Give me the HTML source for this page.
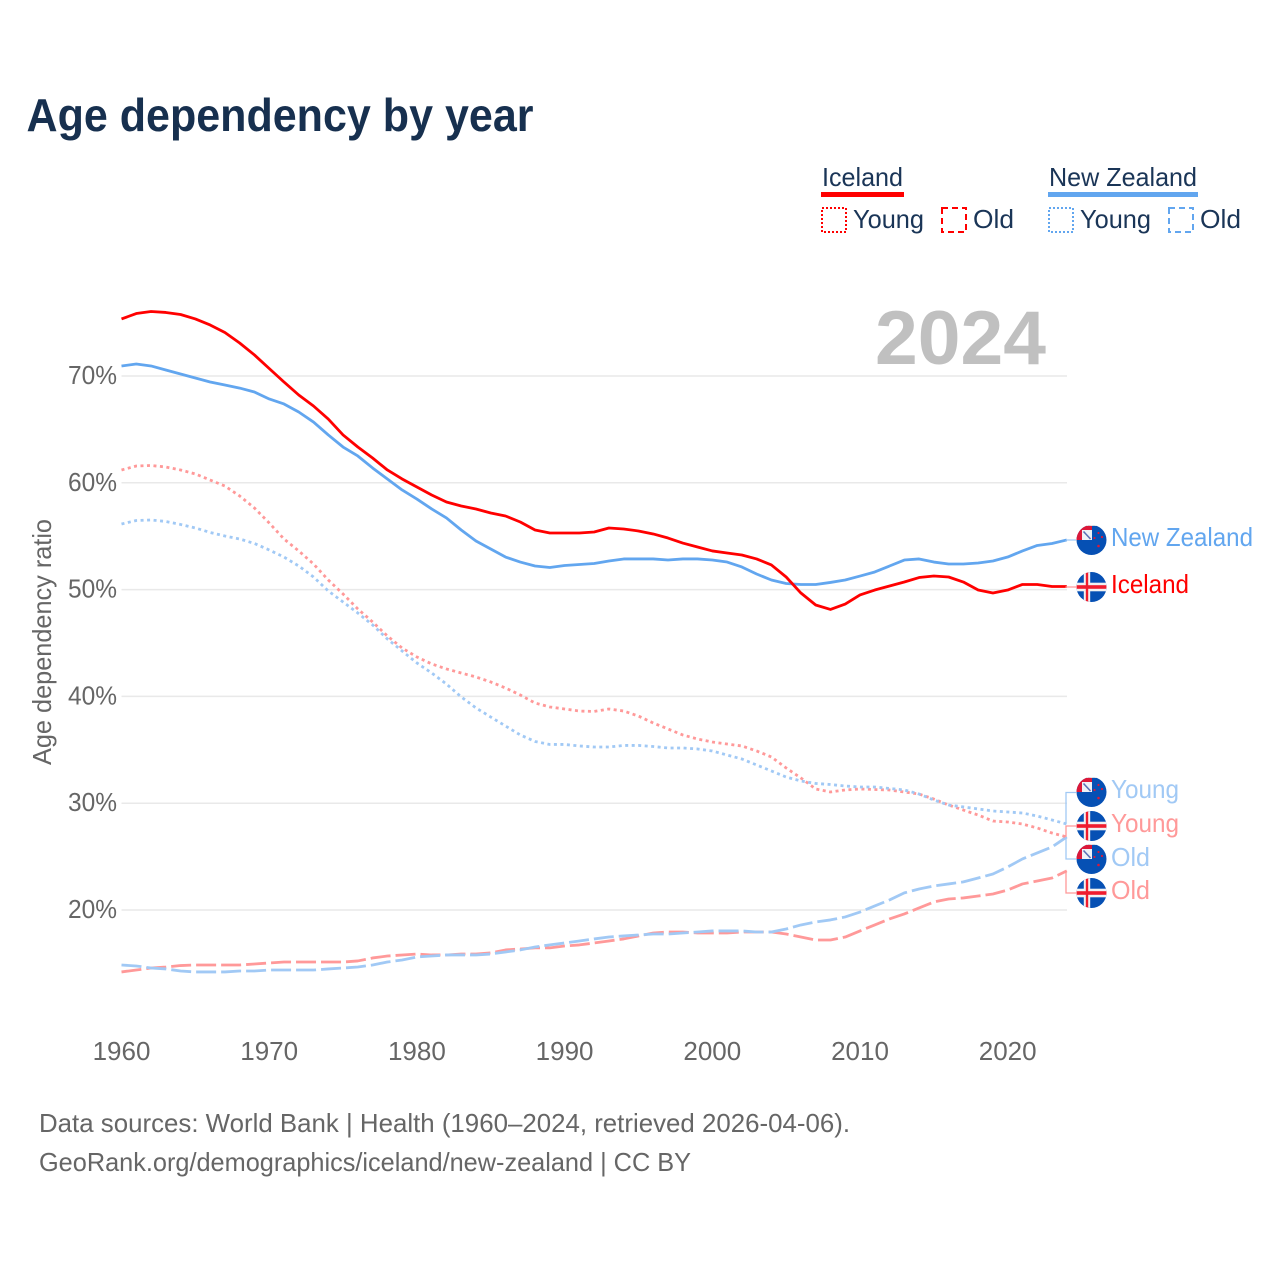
<!DOCTYPE html>
<html lang="en">
<head>
<meta charset="utf-8">
<title>Age dependency by year</title>
<style>
html,body{margin:0;padding:0;background:#fff;}
svg{display:block;}
text{font-family:"Liberation Sans",sans-serif;}
</style>
</head>
<body>
<svg id="chart" xmlns="http://www.w3.org/2000/svg" width="1280" height="1280" viewBox="0 0 1280 1280">
  <defs>
    <clipPath id="flag-clip"><circle cx="0" cy="0" r="15"/></clipPath>
    <g id="flag-is" clip-path="url(#flag-clip)">
      <rect x="-15" y="-15" width="30" height="30" fill="#0650b4"/>
      <rect x="-7.7" y="-15" width="6.4" height="30" fill="#f2f2f2"/>
      <rect x="-15" y="-4.3" width="30" height="8.6" fill="#f2f2f2"/>
      <rect x="-5.7" y="-15" width="2.4" height="30" fill="#ef1c2e"/>
      <rect x="-15" y="-1.8" width="30" height="3.6" fill="#ef1c2e"/>
    </g>
    <g id="flag-nz" clip-path="url(#flag-clip)">
      <rect x="-15" y="-15" width="30" height="30" fill="#0650b4"/>
      <rect x="-15" y="-15" width="15.5" height="15" fill="#dd1738"/>
      <rect x="-9.5" y="-10" width="10" height="10" fill="#eef1f6"/>
      <path d="M-8 -8.5L-1 -1" stroke="#5a6fb5" stroke-width="1.6" fill="none"/>
      <path d="M-15 -15h30" stroke="#e8e8e8" stroke-width="2" fill="none"/>
      <circle cx="7" cy="-7" r="1.1" fill="#dd1738"/>
      <circle cx="10.5" cy="-3" r="1.1" fill="#dd1738"/>
      <circle cx="3" cy="-2" r="1.1" fill="#dd1738"/>
      <circle cx="7" cy="6" r="1.3" fill="#dd1738"/>
    </g>
  </defs>

  <rect x="0" y="0" width="1280" height="1280" fill="#ffffff"/>

  <text x="26.5" y="131" font-size="46" font-weight="700" fill="#17304f" textLength="507" lengthAdjust="spacingAndGlyphs">Age dependency by year</text>

  <g font-size="26" fill="#1a3557">
    <text x="822" y="186" textLength="81" lengthAdjust="spacingAndGlyphs">Iceland</text>
    <rect x="821" y="192" width="83" height="5" fill="#ff0000"/>
    <rect x="822" y="208" width="24" height="24" fill="none" stroke="#ff0000" stroke-width="2" stroke-dasharray="2 2"/>
    <text x="853" y="228" textLength="71" lengthAdjust="spacingAndGlyphs">Young</text>
    <rect x="942" y="208" width="24" height="24" fill="none" stroke="#ff0000" stroke-width="2" stroke-dasharray="6 4"/>
    <text x="973" y="228" textLength="41" lengthAdjust="spacingAndGlyphs">Old</text>
    <text x="1049" y="186" textLength="148" lengthAdjust="spacingAndGlyphs">New Zealand</text>
    <rect x="1048" y="192" width="150" height="5" fill="#62a6ef"/>
    <rect x="1049" y="208" width="24" height="24" fill="none" stroke="#62a6ef" stroke-width="2" stroke-dasharray="2 2"/>
    <text x="1080" y="228" textLength="71" lengthAdjust="spacingAndGlyphs">Young</text>
    <rect x="1169" y="208" width="24" height="24" fill="none" stroke="#62a6ef" stroke-width="2" stroke-dasharray="6 4"/>
    <text x="1200" y="228" textLength="41" lengthAdjust="spacingAndGlyphs">Old</text>
  </g>

  <g id="grid"></g>
  <g id="y-ticks"></g>
  <g id="x-ticks"></g>

  <text x="875" y="364" font-size="76" font-weight="700" fill="#c0c0c0" textLength="171" lengthAdjust="spacingAndGlyphs">2024</text>

  <text transform="translate(51,765) rotate(-90)" font-size="26" fill="#666666" textLength="246" lengthAdjust="spacingAndGlyphs">Age dependency ratio</text>

  <g id="series"></g>
  <g id="connectors"></g>

  <g font-size="26">
    <use href="#flag-nz" x="1091.5" y="540"/>
    <text x="1111" y="546" fill="#62a6ef" textLength="142" lengthAdjust="spacingAndGlyphs">New Zealand</text>
    <use href="#flag-is" x="1091.5" y="587"/>
    <text x="1111" y="593" fill="#ff0000" textLength="78" lengthAdjust="spacingAndGlyphs">Iceland</text>
    <use href="#flag-nz" x="1091.5" y="792"/>
    <text x="1111" y="798" fill="#a1c9f5" textLength="68" lengthAdjust="spacingAndGlyphs">Young</text>
    <use href="#flag-is" x="1091.5" y="826"/>
    <text x="1111" y="832" fill="#ff9999" textLength="68" lengthAdjust="spacingAndGlyphs">Young</text>
    <use href="#flag-nz" x="1091.5" y="859"/>
    <text x="1111" y="866" fill="#a1c9f5" textLength="39" lengthAdjust="spacingAndGlyphs">Old</text>
    <use href="#flag-is" x="1091.5" y="893"/>
    <text x="1111" y="899" fill="#ff9999" textLength="39" lengthAdjust="spacingAndGlyphs">Old</text>
  </g>

  <g font-size="26" fill="#666666">
    <text x="39" y="1132" textLength="811" lengthAdjust="spacingAndGlyphs">Data sources: World Bank | Health (1960–2024, retrieved 2026-04-06).</text>
    <text x="39" y="1171" textLength="652" lengthAdjust="spacingAndGlyphs">GeoRank.org/demographics/iceland/new-zealand | CC BY</text>
  </g>
</svg>
<script>
const startYear = 1960;
const xTickLabels = [1960, 1970, 1980, 1990, 2000, 2010, 2020];
const yTickLabels = [70, 60, 50, 40, 30, 20];

const icelandTotal = [75.34,75.85,76.04,75.95,75.76,75.34,74.78,74.07,73.09,71.97,70.7,69.44,68.22,67.19,65.97,64.48,63.35,62.32,61.2,60.36,59.61,58.86,58.2,57.83,57.55,57.17,56.89,56.33,55.58,55.3,55.3,55.3,55.39,55.77,55.67,55.49,55.21,54.83,54.36,53.99,53.62,53.43,53.24,52.87,52.31,51.18,49.68,48.56,48.14,48.65,49.5,49.96,50.34,50.71,51.13,51.27,51.18,50.71,49.96,49.68,49.96,50.48,50.48,50.29,50.29];
const newZealandTotal = [70.94,71.12,70.94,70.56,70.19,69.81,69.44,69.16,68.87,68.5,67.85,67.38,66.63,65.69,64.48,63.35,62.51,61.39,60.36,59.33,58.48,57.55,56.71,55.58,54.55,53.8,53.05,52.58,52.21,52.07,52.26,52.35,52.44,52.68,52.87,52.87,52.87,52.77,52.87,52.87,52.77,52.58,52.12,51.46,50.9,50.57,50.48,50.48,50.67,50.9,51.27,51.65,52.21,52.77,52.87,52.58,52.4,52.4,52.49,52.68,53.05,53.62,54.13,54.32,54.65];
const icelandYoung = [61.2,61.57,61.62,61.48,61.2,60.83,60.26,59.7,58.77,57.64,56.24,54.74,53.62,52.4,50.9,49.59,48.19,46.97,45.66,44.53,43.69,43.04,42.57,42.19,41.82,41.35,40.79,40.13,39.38,39.01,38.82,38.63,38.59,38.82,38.63,38.16,37.51,36.95,36.39,36.01,35.73,35.54,35.36,34.89,34.33,33.3,32.36,31.33,31.05,31.24,31.33,31.28,31.24,31.05,30.86,30.39,29.83,29.36,28.89,28.33,28.24,28.05,27.68,27.21,26.84];
const newZealandYoung = [56.14,56.47,56.52,56.38,56.1,55.77,55.35,55.02,54.74,54.32,53.71,53.05,52.21,51.18,49.87,48.84,47.81,46.69,45.38,44.25,43.13,42.19,41.16,39.95,38.92,38.07,37.23,36.39,35.78,35.5,35.5,35.36,35.26,35.26,35.41,35.41,35.31,35.17,35.17,35.08,34.89,34.51,34.14,33.58,33.02,32.45,32.08,31.85,31.75,31.61,31.52,31.52,31.38,31.24,30.86,30.3,29.83,29.65,29.46,29.27,29.18,29.08,28.8,28.43,28.05];
const icelandOld = [14.2,14.38,14.57,14.66,14.8,14.85,14.85,14.85,14.85,14.94,15.04,15.13,15.13,15.13,15.13,15.13,15.23,15.51,15.69,15.79,15.88,15.79,15.79,15.88,15.88,15.98,16.26,16.35,16.45,16.45,16.63,16.73,16.91,17.1,17.29,17.57,17.85,17.94,17.94,17.85,17.85,17.85,17.94,17.94,17.94,17.75,17.47,17.19,17.19,17.47,18.04,18.6,19.16,19.63,20.19,20.75,21.03,21.13,21.31,21.5,21.87,22.44,22.72,23.0,23.66];
const newZealandOld = [14.85,14.76,14.57,14.48,14.29,14.2,14.2,14.2,14.29,14.29,14.38,14.38,14.38,14.38,14.48,14.57,14.66,14.85,15.13,15.32,15.6,15.69,15.79,15.79,15.79,15.88,16.07,16.26,16.54,16.73,16.91,17.1,17.29,17.47,17.57,17.66,17.75,17.75,17.85,17.94,18.04,18.04,18.04,17.94,17.94,18.22,18.6,18.88,19.07,19.35,19.81,20.38,20.94,21.6,21.97,22.25,22.44,22.63,23.0,23.37,24.03,24.78,25.34,25.9,26.84];

const SVG_NS = 'http://www.w3.org/2000/svg';
const RED = '#ff0000';
const BLUE = '#62a6ef';
const PALE_RED = '#ff9999';
const PALE_BLUE = '#a1c9f5';
const PLOT_LEFT = 121.5;
const PLOT_RIGHT = 1067;

function xScale(year) {
  return 121.5 + (year - 1960) * 14.77;
}
function yScale(value) {
  return 376 + (70 - value) * 10.68;
}
function make(tag, attrs, parent) {
  const el = document.createElementNS(SVG_NS, tag);
  for (const k in attrs) el.setAttribute(k, attrs[k]);
  parent.appendChild(el);
  return el;
}
function linePath(values) {
  return values.map(function (v, i) {
    return (i ? 'L' : 'M') + xScale(startYear + i).toFixed(2) + ' ' + yScale(v).toFixed(2);
  }).join('');
}

const gridGroup = document.getElementById('grid');
const yTickGroup = document.getElementById('y-ticks');
yTickLabels.forEach(function (t) {
  const line = make('line', {x1: PLOT_LEFT, x2: PLOT_RIGHT, y1: yScale(t), y2: yScale(t), stroke: '#e9e9e9', 'stroke-width': 1.5}, gridGroup);
  
  
  const label = make('text', {x: 68, y: yScale(t) + 8, 'font-size': 26, fill: '#666666', textLength: 49, lengthAdjust: 'spacingAndGlyphs'}, yTickGroup);
  label.textContent = t + '%';
  
  
});

const xTickGroup = document.getElementById('x-ticks');
xTickLabels.forEach(function (t) {
  const label = make('text', {x: xScale(t), y: 1060, 'font-size': 26, fill: '#666666', 'text-anchor': 'middle'}, xTickGroup);
  label.textContent = t;
  
  
});

const seriesGroup = document.getElementById('series');
const DOT = '3 3.5';
const DASH = '20 5';
function drawSeries(name, values, color, dash) {
  const attrs = {d: linePath(values), fill: 'none', stroke: color, 'stroke-width': 2.8, 'stroke-linejoin': 'round'};
  if (dash) attrs['stroke-dasharray'] = dash;
  const p = make('path', attrs, seriesGroup);
  
  
}
drawSeries('line-iceland-old', icelandOld, PALE_RED, DASH);
drawSeries('line-new-zealand-old', newZealandOld, PALE_BLUE, DASH);
drawSeries('line-iceland-young', icelandYoung, PALE_RED, DOT);
drawSeries('line-new-zealand-young', newZealandYoung, PALE_BLUE, DOT);
drawSeries('line-new-zealand-total', newZealandTotal, BLUE, null);
drawSeries('line-iceland-total', icelandTotal, RED, null);

const connectorGroup = document.getElementById('connectors');
function drawConnector(name, endValue, labelY, color) {
  const y = yScale(endValue);
  const p = make('path', {d: 'M' + (PLOT_RIGHT - 1) + ' ' + y + 'L' + (PLOT_RIGHT - 1) + ' ' + labelY + 'L1076 ' + labelY, fill: 'none', stroke: color, 'stroke-width': 1.3}, connectorGroup);
  
  
}
drawConnector('connector-new-zealand-total', newZealandTotal[64], 540, PALE_BLUE);
drawConnector('connector-iceland-total', icelandTotal[64], 587, PALE_RED);
drawConnector('connector-new-zealand-young', newZealandYoung[64], 792.5, PALE_BLUE);
drawConnector('connector-iceland-young', icelandYoung[64], 826, PALE_RED);
drawConnector('connector-new-zealand-old', newZealandOld[64], 859, PALE_BLUE);
drawConnector('connector-iceland-old', icelandOld[64], 893, PALE_RED);
</script>
</body>
</html>
